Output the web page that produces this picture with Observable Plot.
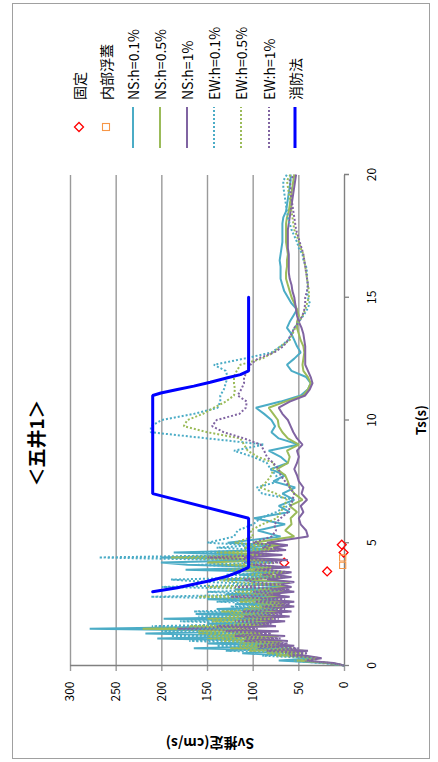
<!DOCTYPE html>
<html><head><meta charset="utf-8">
<script src="https://cdn.jsdelivr.net/npm/d3@7"></script>
<script src="https://cdn.jsdelivr.net/npm/@observablehq/plot@0.6"></script>
<style>
html,body{margin:0;padding:0;background:#fff;overflow:hidden;width:438px;height:762px;}
#chart{position:absolute;left:12px;top:759px;width:756px;height:418px;transform-origin:0 0;transform:rotate(-90deg);background:#fff;font-family:"Noto Sans CJK JP",sans-serif;}
#frame{position:absolute;left:0;top:0;width:756px;height:418px;box-sizing:border-box;border:1px solid #a0a0a0;}
#plot,#over{position:absolute;left:0;top:0;}
</style></head><body>
<div id="chart"><div id="plot"></div><svg id="over" width="756" height="418"></svg><div id="frame"></div></div>
<script>
// Period grid (s)
const ts = [0,0.1,0.2,0.3,0.4,0.5,0.6,0.7,0.8,0.9,1,1.1,1.2,1.3,1.4,1.5,1.6,1.7,1.8,1.9,2,2.1,2.2,2.3,2.4,2.5,2.6,2.7,2.8,2.9,3,3.1,3.2,3.3,3.4,3.5,3.6,3.7,3.8,3.9,4,4.1,4.2,4.3,4.4,4.5,4.6,4.7,4.8,4.9,5,
  5.25,5.5,5.75,6,6.25,6.5,6.75,7,7.25,7.5,7.75,8,8.25,8.5,8.75,9,9.25,9.5,9.75,10,10.25,10.5,10.75,11,11.25,11.5,11.75,12,12.25,12.5,12.75,13,13.25,13.5,13.75,14,14.25,14.5,14.75,15,15.25,15.5,15.75,16,16.25,16.5,16.75,17,17.25,17.5,17.75,18,18.25,18.5,18.75,19,19.25,19.5,19.75,20];

const ns01 = [0,20,72,30,60,112,50,165,65,150,75,205,80,218,90,279,100,150,75,198,70,163,65,140,60,120,60,150,70,130,60,120,65,100,65,135,70,115,70,174,72,172,201,75,201,85,187,80,110,75,128,
  70,95,65,99, 60,72,55,68, 54,78,65,81, 62,70,83,50, 72,80,76,80, 88,97,70,48, 40,37,42,58, 63,55,48,52, 55,58,63,60, 56,52,58,62, 66,68,70,70, 70,71,70,69, 68,68,68,68, 67,64,63,62, 61,60,59,59];
const ns05 = [0,15,55,28,50,85,45,125,60,115,68,150,72,160,80,221,85,120,70,150,65,125,62,110,58,95,58,115,65,100,58,95,62,80,60,105,65,90,65,130,68,130,150,70,150,78,140,72,90,68,100,
  55,65,58,59, 52,60,46,55, 60,62,65,74, 62,60,63,50, 62,68,72,73, 78,83,65,45, 40,37,40,45, 46,45,44,45, 48,50,52,52, 50,52,55,58, 60,62,64,64, 63,63,62,63, 64,64,64,64, 63,61,60,59, 58,57,56,55];
const ns1 = [0,12,45,25,42,65,40,95,55,90,62,110,65,120,72,183,75,100,65,115,60,98,58,90,55,80,55,92,60,85,55,80,58,70,55,85,58,75,58,100,60,100,110,62,110,68,105,64,78,62,85,
  40,42,48,50, 45,48,41,47, 45,50,52,55, 52,50,52,46, 52,56,59,62, 68,72,60,43, 38,35,37,40, 43,43,43,43, 44,45,47,50, 52,53,54,55, 57,58,60,61, 61,61,61,62, 62,62,62,61, 60,59,58,57, 56,55,54,53];
const ew01 = [0,25,60,35,90,50,130,60,140,75,170,85,190,100,200,120,211,90,180,85,160,80,165,75,125,70,140,75,212,85,150,70,200,80,150,190,75,130,70,140,85,160,80,130,269,110,170,90,140,100,150,
  121,117,100,92, 75,62,55,90, 96,72,75,81, 85,100,121,88, 150,212,212,200, 165,139,136,136, 132,130,128,130, 143,110,80,70, 62,58,55,50, 45,41,38,40, 41,40,41,41, 42,45,46,50, 52,55,58,60, 62,63,64,65, 66,67,67,63];
const ew05 = [0,20,50,30,75,45,105,55,115,70,135,78,150,90,160,105,170,85,145,78,130,75,135,70,105,65,115,70,160,78,120,65,150,75,120,140,70,105,65,110,80,125,75,105,190,95,130,80,110,90,120,
  100,103,90,74, 70,66,63,75, 92,85,80,78, 77,95,106,110, 114,150,176,172, 155,143,130,121, 120,121,121,118, 114,90,78,70, 60,57,54,50, 46,43,41,39, 39,40,41,42, 43,44,45,48, 50,52,55,56, 57,58,59,60, 61,62,63,59];
const ew1 = [0,16,42,26,60,40,85,50,95,62,110,70,120,80,130,95,140,80,120,72,110,68,112,65,90,60,98,65,125,70,100,60,120,70,100,110,65,90,60,90,70,100,70,90,150,85,105,70,90,80,100,
  80,75,77,70, 62,59,57,55, 60,65,70,72, 78,85,88,92, 110,132,145,140, 115,108,107,117, 113,110,110,106, 103,95,77,67, 62,58,55,50, 46,44,43,43, 41,40,41,42, 43,44,45,47, 49,51,53,54, 55,56,57,58, 59,59,60,55];

// 消防法 (Fire Service Act) spectrum
const fsT = [3.0,3.17,3.43,3.64,3.84,4.0,6.0,7.0,11.0,11.1,11.24,11.38,11.54,11.72,11.85,12.0,15.0];
const fsV = [210,183,150,128,114,105,105,210,210,201,183,165,147,128,114,105,105];

// 固定 / 内部浮蓋 points
const fixT = [4.19,3.83,4.92,4.6];
const fixV = [66,19,3,1];
const floatT = [4.38,4.08];
const floatV = [2,2];

const xTicks = [0,5,10,15,20];
const yTicks = [0,50,100,150,200,250,300];

const series = [
  {name:"NS:h=0.1%", v:ns01, color:"#4BACC6", dash:null},
  {name:"NS:h=0.5%", v:ns05, color:"#9BBB59", dash:null},
  {name:"NS:h=1%",   v:ns1,  color:"#8064A2", dash:null},
  {name:"EW:h=0.1%", v:ew01, color:"#4BACC6", dash:"2,2"},
  {name:"EW:h=0.5%", v:ew05, color:"#9BBB59", dash:"2,2"},
  {name:"EW:h=1%",   v:ew1,  color:"#8064A2", dash:"2,2"}
];

const toRows = (xs, ys) => xs.map((x,i)=>({x, y:ys[i]}));

const marks = [
  Plot.gridY(yTicks.slice(1), {stroke:"#9a9a9a", strokeOpacity:1, strokeWidth:1.4}),
  Plot.axisY(yTicks, {tickSize:5, tickPadding:11, stroke:"#9a9a9a", strokeWidth:1.4, fill:"#000", fontSize:12, label:null}),
  Plot.axisX(xTicks, {tickSize:5, tickPadding:18, stroke:"#808080", strokeWidth:1.3, fill:"#000", fontSize:12, label:null}),
  Plot.ruleX([0], {stroke:"#808080", strokeWidth:1.4}),
  Plot.ruleY([0], {stroke:"#808080", strokeWidth:1.4}),
  Plot.dot(toRows(fixT, fixV), {x:"x", y:"y", symbol:"diamond2", r:4, stroke:"#FF0000", strokeWidth:1.3, fill:"none"}),
  Plot.dot(toRows(floatT, floatV), {x:"x", y:"y", symbol:"square", r:3.5, stroke:"#F79646", strokeWidth:1.1, fill:"none"}),
  ...series.map(s => Plot.line(toRows(ts, s.v), {x:"x", y:"y", stroke:s.color, strokeWidth:2, strokeDasharray:s.dash||undefined, strokeLinecap:"butt", strokeLinejoin:"miter"})),
  Plot.line(toRows(fsT, fsV), {x:"x", y:"y", stroke:"#0000FF", strokeWidth:3, strokeLinejoin:"miter"})
];

const chart = Plot.plot({
  width:756, height:418,
  marginLeft:93, marginRight:172, marginTop:58, marginBottom:86,
  x:{domain:[0,20]},
  y:{domain:[0,300]},
  style:{fontFamily:'"Noto Sans CJK JP",sans-serif', fontSize:"12px", background:"transparent", color:"#000"},
  marks
});
document.getElementById("plot").appendChild(chart);

// overlay: title, axis labels, legend
const svg = d3.select("#over").style("font-family",'"Noto Sans CJK JP",sans-serif');
svg.append("text").attr("x",316).attr("y",23).attr("text-anchor","middle").attr("dominant-baseline","central")
  .attr("font-size",19).attr("font-weight","bold").text("＜五井1＞");
svg.append("text").attr("x",339).attr("y",408).attr("text-anchor","middle").attr("dominant-baseline","central")
  .attr("font-size",13).attr("font-weight","bold").text("Ts(s)");
svg.append("text").attr("transform","translate(15,198) rotate(-90)").attr("text-anchor","middle").attr("dominant-baseline","central")
  .attr("font-size",14).attr("font-weight","bold").text("Sv推定(cm/s)");

const legendItems = [
  {name:"固定", type:"diamond", color:"#FF0000"},
  {name:"内部浮蓋", type:"square", color:"#F79646"},
  ...series.map(s=>({name:s.name, type:"line", color:s.color, dash:s.dash})),
  {name:"消防法", type:"line", color:"#0000FF", width:3}
];
const legY = [67,94,121,148,175,202,229,257,283];
legendItems.forEach((it,i)=>{
  const y = legY[i];
  const g = svg.append("g");
  if (it.type==="line") {
    g.append("line").attr("x1",611).attr("x2",652).attr("y1",y).attr("y2",y)
      .attr("stroke",it.color).attr("stroke-width",it.width||2).attr("stroke-dasharray",it.dash||null);
  } else if (it.type==="diamond") {
    g.append("path").attr("d",`M${632-4.5},${y}L632,${y-4.5}L${632+4.5},${y}L632,${y+4.5}Z`)
      .attr("fill","none").attr("stroke",it.color).attr("stroke-width",1.3);
  } else {
    g.append("rect").attr("x",632-3.5).attr("y",y-3.5).attr("width",7).attr("height",7)
      .attr("fill","none").attr("stroke",it.color).attr("stroke-width",1.1);
  }
  g.append("text").attr("x",659).attr("y",y).attr("dominant-baseline","central").attr("font-size",14).text(it.name);
});
</script>
</body></html>
